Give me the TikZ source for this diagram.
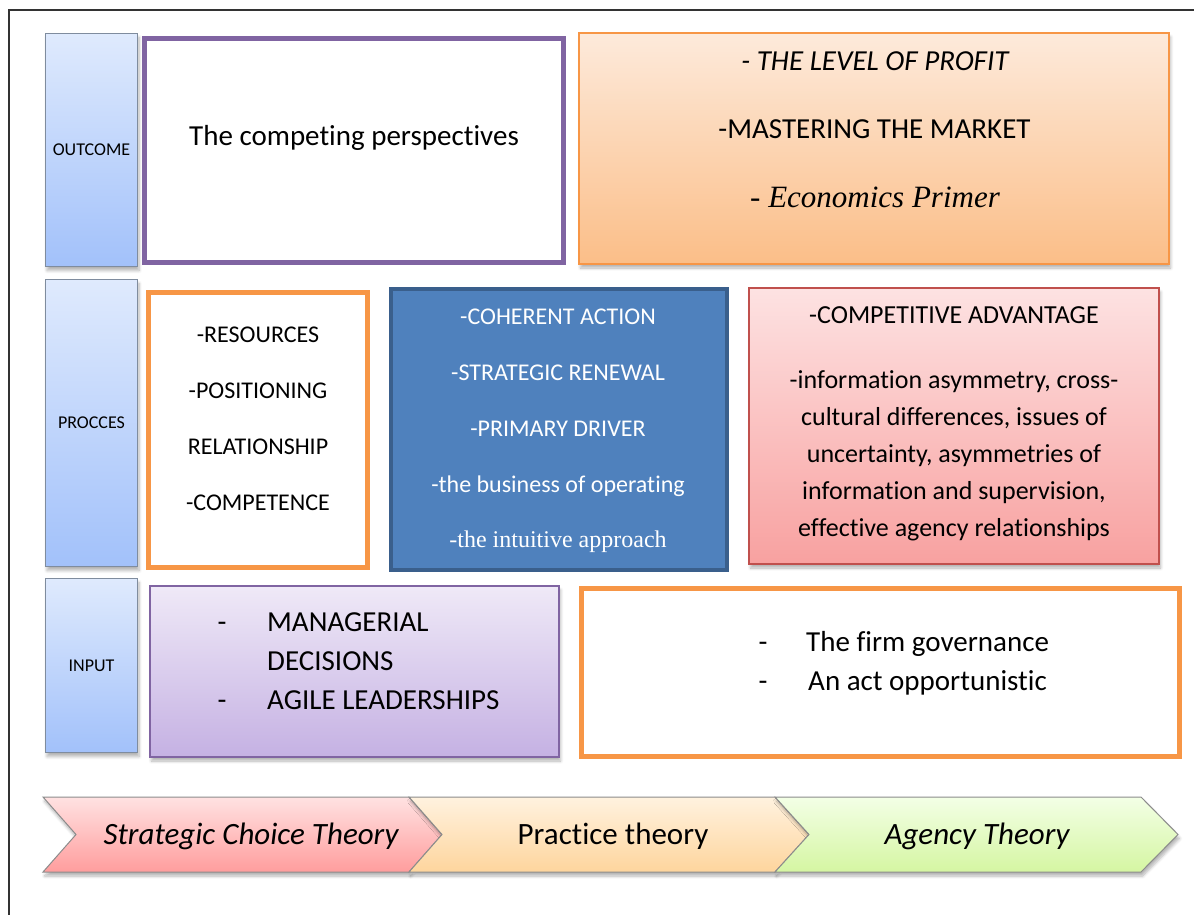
\documentclass[tikz,border=0pt]{standalone}
\usepackage{fontspec}
\setmainfont{Carlito}[Ligatures=NoCommon]
\newfontfamily\tnr{Liberation Serif}
\usetikzlibrary{shadows.blur}
\definecolor{labtop}{HTML}{DFEAFD}
\definecolor{labbot}{HTML}{A2C1FA}
\definecolor{labline}{HTML}{7F8C9E}
\definecolor{purp}{HTML}{8064A2}
\definecolor{orng}{HTML}{F79646}
\definecolor{proftop}{HTML}{FDEADB}
\definecolor{profbot}{HTML}{FBBE88}
\definecolor{bluef}{HTML}{4F81BD}
\definecolor{bluel}{HTML}{3A5F8C}
\definecolor{pinktop}{HTML}{FDE2E2}
\definecolor{pinkbot}{HTML}{F8A1A0}
\definecolor{pinkl}{HTML}{C0504D}
\definecolor{vtop}{HTML}{EFE9F7}
\definecolor{vbot}{HTML}{C5B1E3}
\definecolor{c1top}{HTML}{FFE2E2}
\definecolor{c1bot}{HTML}{FF9D9D}
\definecolor{c2top}{HTML}{FFF2DF}
\definecolor{c2bot}{HTML}{FED59D}
\definecolor{c3top}{HTML}{F3FFE6}
\definecolor{c3bot}{HTML}{D5F6A2}
\definecolor{chevl}{HTML}{8C8C8C}
\begin{document}
\begin{tikzpicture}[x=1pt,y=-1pt,
  shad/.style={blur shadow={shadow xshift=1.5pt,shadow yshift=-4pt,shadow opacity=30,shadow blur steps=6,shadow blur radius=3pt}},
  labbox/.style={draw=labline,line width=1.2pt,top color=labtop,bottom color=labbot,minimum width=92pt,inner sep=0pt,shad,font=\fontsize{18}{20}\selectfont},
  box/.style={inner sep=0pt},
  t24/.style={inner sep=0pt,font=\fontsize{24}{28}\selectfont,text height=16pt,text depth=0pt},
  t26/.style={inner sep=0pt,font=\fontsize{26}{30}\selectfont,text height=17pt,text depth=0pt},
  t29/.style={inner sep=0pt,font=\fontsize{29}{34}\selectfont,text height=19pt,text depth=0pt},
  t31/.style={inner sep=0pt,font=\fontsize{31}{36}\selectfont,text height=20.5pt,text depth=0pt},
  chev/.style={draw=chevl,line width=1pt,shad}
]
\useasboundingbox (0,0) rectangle (1194,915);
\draw[black!80,line width=1.5pt] (1194,10) -- (9,10) -- (9,915);

% row labels
\node[labbox,minimum height=233pt] (outlab) at (91.5,150) {OUTCOME};
\node[labbox,minimum height=287pt] (proclab) at (91.5,423) {PROCCES};
\node[labbox,minimum height=174pt] (inlab) at (91.5,665.5) {INPUT};

% outcome row
\node[box,draw=purp,line width=5pt,fill=white,minimum width=419pt,minimum height=224pt] (compbox) at (354,150.5) {};
\node[t29] (comptxt) at (354,136) {The competing perspectives};

\node[box,draw=orng,line width=2pt,top color=proftop,bottom color=profbot,minimum width=590pt,minimum height=231pt,shad] (profbox) at (874,148.5) {};
\node[t29] (prof1) at (875,61) {\itshape - THE LEVEL OF PROFIT};
\node[t29] (prof2) at (874.5,129) {-MASTERING THE MARKET};
\node[t31] (prof3) at (875,197) {\tnr\itshape - Economics Primer};

% process row
\node[box,draw=orng,line width=5pt,fill=white,minimum width=219pt,minimum height=275pt] (resbox) at (258,430) {};
\node[t24] (res1) at (258,334) {-RESOURCES};
\node[t24] (res2) at (258,390) {-POSITIONING};
\node[t24] (res3) at (258,446) {RELATIONSHIP};
\node[t24] (res4) at (258,502) {-COMPETENCE};

\node[box,draw=bluel,line width=4pt,fill=bluef,minimum width=336pt,minimum height=281pt] (bluebox) at (559,429.5) {};
\node[t24,text=white] (blu1) at (558,316) {-COHERENT ACTION};
\node[t24,text=white] (blu2) at (558,372) {-STRATEGIC RENEWAL};
\node[t24,text=white] (blu3) at (558,428) {-PRIMARY DRIVER};
\node[t24,text=white] (blu4) at (558,484) {-the business of operating};
\node[t24,text=white] (blu5) at (558,539) {\tnr -the intuitive approach};

\node[box,draw=pinkl,line width=1.5pt,top color=pinktop,bottom color=pinkbot,minimum width=410pt,minimum height=276pt,shad] (pinkbox) at (954,426) {};
\node[t26] (pink1) at (954,315) {-COMPETITIVE ADVANTAGE};
\node[t26] (pink2) at (954,380) {-information asymmetry, cross-};
\node[t26] (pink3) at (954,417) {cultural differences, issues of};
\node[t26] (pink4) at (954,454) {uncertainty, asymmetries of};
\node[t26] (pink5) at (954,491) {information and supervision,};
\node[t26] (pink6) at (954,528) {effective agency relationships};

% input row
\node[box,draw=purp,line width=1.5pt,top color=vtop,bottom color=vbot,minimum width=409pt,minimum height=171pt,shad] (mgbox) at (354.5,671.5) {};
\node[t29] (mgd1) at (222,622) {-};
\node[t29,anchor=west] (mg1) at (267,622) {MANAGERIAL};
\node[t29,anchor=west] (mg2) at (267,661) {DECISIONS};
\node[t29] (mgd2) at (222,700) {-};
\node[t29,anchor=west] (mg3) at (267,700) {AGILE LEADERSHIPS};

\node[box,draw=orng,line width=5pt,fill=white,minimum width=598pt,minimum height=168pt] (govbox) at (880.5,672.5) {};
\node[t29] (govd1) at (763,642) {-};
\node[t29,anchor=west] (gov1) at (806,642) {The firm governance};
\node[t29] (govd2) at (763,681) {-};
\node[t29,anchor=west] (gov2) at (808,681) {An act opportunistic};

% chevrons
\draw[chev,top color=c1top,bottom color=c1bot] (43,797) -- (409,797) -- (442,834.5) -- (409,872) -- (43,872) -- (76,834.5) -- cycle;
\draw[chev,top color=c2top,bottom color=c2bot] (409,797) -- (775,797) -- (809,834.5) -- (775,872) -- (409,872) -- (442,834.5) -- cycle;
\draw[chev,top color=c3top,bottom color=c3bot] (775,797) -- (1141,797) -- (1178,834.5) -- (1141,872) -- (775,872) -- (809,834.5) -- cycle;
\node[t31] (ch1) at (251,834) {\itshape Strategic Choice Theory};
\node[t31] (ch2) at (613,834) {Practice theory};
\node[t31] (ch3) at (977,834) {\itshape Agency Theory};
\end{tikzpicture}
\end{document}
